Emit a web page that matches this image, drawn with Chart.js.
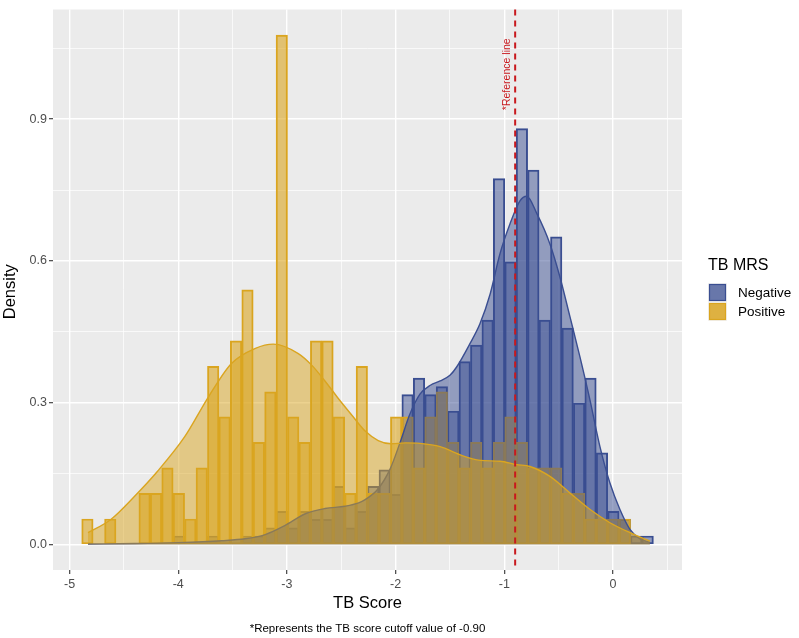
<!DOCTYPE html>
<html>
<head>
<meta charset="utf-8">
<script src="https://cdn.jsdelivr.net/npm/chart.js@4.4.1/dist/chart.umd.min.js"></script>
<style>
html,body{margin:0;padding:0;background:#ffffff;}
canvas{display:block;}
</style>
</head>
<body>
<canvas id="chart" width="799" height="638"></canvas>
<script>
// ---------- data ----------
const seriesNames = ['Negative', 'Positive'];

// histogram bin centres (TB Score)
const binCenters = [
  -4.8354, -4.7302, -4.6250, -4.5198, -4.4146, -4.3094, -4.2042, -4.0990, -3.9938, -3.8886,
  -3.7834, -3.6782, -3.5730, -3.4678, -3.3626, -3.2574, -3.1522, -3.0470, -2.9418, -2.8366,
  -2.7314, -2.6262, -2.5210, -2.4158, -2.3106, -2.2054, -2.1002, -1.9950, -1.8898, -1.7846,
  -1.6794, -1.5742, -1.4690, -1.3638, -1.2586, -1.1534, -1.0482, -0.9430, -0.8378, -0.7326,
  -0.6274, -0.5222, -0.4170, -0.3118, -0.2066, -0.1014, 0.0038, 0.1090, 0.2142, 0.3194
];

// histogram densities (null = empty bin)
const negativeDensity = [
  null, null, null, null, null, null, null, null, 0.018, null,
  null, 0.018, null, null, 0.018, 0.018, 0.035, 0.070, 0.035, 0.070,
  0.053, 0.053, 0.123, 0.035, 0.070, 0.123, 0.158, 0.106, 0.317, 0.352,
  0.317, 0.334, 0.282, 0.387, 0.422, 0.475, 0.774, 0.598, 0.880, 0.792,
  0.475, 0.651, 0.458, 0.299, 0.352, 0.194, 0.070, 0.053, 0.018, 0.018
];
const positiveDensity = [
  0.054, null, 0.054, null, null, 0.108, 0.108, 0.162, 0.108, 0.054,
  0.162, 0.377, 0.270, 0.431, 0.539, 0.216, 0.323, 1.078, 0.270, 0.216,
  0.431, 0.431, 0.270, 0.108, 0.377, 0.108, 0.108, 0.270, 0.270, 0.162,
  0.270, 0.323, 0.216, 0.162, 0.216, 0.162, 0.216, 0.270, 0.216, 0.162,
  0.162, 0.162, 0.108, 0.108, 0.054, 0.054, 0.054, 0.054, null, null
];

// density curves
const negativeCurveX = [-4.83, -4.4, -4.0, -3.6, -3.385, -3.2, -3.02, -2.83, -2.65, -2.465, -2.34, -2.28, -2.16, -2.05, -1.96, -1.87, -1.776, -1.68, -1.59, -1.50, -1.44, -1.316, -1.224, -1.13, -1.04, -0.948, -0.856, -0.794, -0.70, -0.58, -0.488, -0.396, -0.304, -0.212, -0.12, -0.028, 0.064, 0.156, 0.248, 0.34];
const negativeCurveY = [0.001, 0.002, 0.004, 0.008, 0.012, 0.021, 0.040, 0.065, 0.076, 0.081, 0.088, 0.095, 0.118, 0.160, 0.215, 0.275, 0.318, 0.337, 0.346, 0.358, 0.375, 0.425, 0.467, 0.530, 0.615, 0.678, 0.727, 0.737, 0.700, 0.636, 0.566, 0.482, 0.397, 0.306, 0.207, 0.130, 0.074, 0.032, 0.012, 0.004];
const positiveCurveX = [-4.83, -4.62, -4.41, -4.19, -3.94, -3.72, -3.51, -3.29, -3.125, -2.895, -2.77, -2.65, -2.527, -2.40, -2.28, -2.16, -2.04, -1.91, -1.776, -1.59, -1.41, -1.22, -1.04, -0.886, -0.764, -0.58, -0.396, -0.21, -0.028, 0.156, 0.34];
const positiveCurveY = [0.025, 0.053, 0.100, 0.155, 0.228, 0.313, 0.383, 0.415, 0.424, 0.404, 0.379, 0.346, 0.309, 0.273, 0.240, 0.220, 0.213, 0.215, 0.214, 0.207, 0.190, 0.178, 0.176, 0.169, 0.165, 0.144, 0.109, 0.074, 0.046, 0.025, 0.007];

// axes
const xTicksMajor = [-5, -4, -3, -2, -1, 0];
const xTicksMinor = [-4.5, -3.5, -2.5, -1.5, -0.5, 0.5];
const yTicksMajor = [0, 0.3, 0.6, 0.9];
const yTicksMinor = [0.15, 0.45, 0.75, 1.05];
const xLimits = [-5.152, 0.635];
const yLimits = [-0.054, 1.132];

// reference line
const referenceValue = -0.90;
const referenceLabel = '*Reference line';
const referenceLabelY = 0.995;

const xTitle = 'TB Score';
const yTitle = 'Density';
const legendTitle = 'TB MRS';
const captionText = '*Represents the TB score cutoff value of -0.90';

// ---------- styles ----------
const FONT = '"Liberation Sans", Arial, Helvetica, sans-serif';
const blue = 'rgb(58,78,145)';
const blueA = 'rgba(58,78,145,0.5)';
const gold = 'rgb(218,165,32)';
const goldA = 'rgba(218,165,32,0.6)';
const red = '#C8191E';

const toXY = (xs, ys) => xs.map((x, i) => ({ x: x, y: ys[i] }));
const isIn = (arr, v) => arr.some(a => Math.abs(a - v) < 1e-6);

const panelPlugin = {
  id: 'panel',
  beforeDraw(chart) {
    const { ctx, chartArea: a } = chart;
    ctx.save();
    ctx.fillStyle = '#ffffff';
    ctx.fillRect(0, 0, chart.width, chart.height);
    ctx.fillStyle = '#EBEBEB';
    ctx.fillRect(a.left, a.top, a.right - a.left, a.bottom - a.top);
    ctx.restore();
  },
  afterDatasetsDraw(chart) {
    const { ctx, chartArea: a, scales } = chart;
    const px = scales.x.getPixelForValue(referenceValue);
    ctx.save();
    ctx.strokeStyle = red;
    ctx.lineWidth = 2;
    ctx.setLineDash([6, 5]);
    ctx.beginPath();
    ctx.moveTo(px, a.top);
    ctx.lineTo(px, a.bottom);
    ctx.stroke();
    ctx.setLineDash([]);
    const py = scales.y.getPixelForValue(referenceLabelY);
    ctx.translate(px - 8.5, py);
    ctx.rotate(-Math.PI / 2);
    ctx.fillStyle = red;
    ctx.font = '10.5px ' + FONT;
    ctx.textAlign = 'center';
    ctx.textBaseline = 'middle';
    ctx.fillText(referenceLabel, 0, 0);
    ctx.restore();
  },
  afterDraw(chart) {
    const { ctx, chartArea: a } = chart;
    const cx = (a.left + a.right) / 2;
    ctx.save();
    ctx.fillStyle = '#000000';
    ctx.textAlign = 'center';
    ctx.textBaseline = 'middle';
    ctx.font = '16.5px ' + FONT;
    ctx.fillText(xTitle, cx, 603);
    ctx.font = '11.5px ' + FONT;
    ctx.fillText(captionText, cx, 629);
    ctx.save();
    ctx.translate(10, (a.top + a.bottom) / 2 + 2);
    ctx.rotate(-Math.PI / 2);
    ctx.font = '16.5px ' + FONT;
    ctx.fillText(yTitle, 0, 0);
    ctx.restore();
    // legend
    ctx.textAlign = 'left';
    ctx.font = '16px ' + FONT;
    ctx.fillText(legendTitle, 708, 266);
    const keys = [
      { y: 283, fill: blueA, line: blue },
      { y: 302, fill: goldA, line: gold }
    ];
    keys.forEach((k, i) => {
      ctx.fillStyle = '#F2F2F2';
      ctx.fillRect(708, k.y, 19, 19);
      ctx.fillStyle = k.fill;
      ctx.fillRect(709, k.y + 1, 17, 17);
      ctx.fillRect(709, k.y + 1, 17, 17);
      ctx.strokeStyle = k.line;
      ctx.lineWidth = 1.2;
      ctx.strokeRect(709.5, k.y + 1.5, 16, 16);
      ctx.fillStyle = '#000000';
      ctx.font = '13.5px ' + FONT;
      ctx.fillText(seriesNames[i], 738, k.y + 10);
    });
    ctx.restore();
  }
};

const tickValue = (c) => (c && c.tick) ? c.tick.value : NaN;
const gridWidth = (c, majors) => isIn(majors, tickValue(c)) ? 1.4 : 0.7;
const tickCol = (c, majors) => isIn(majors, tickValue(c)) ? '#333333' : 'rgba(0,0,0,0)';

new Chart(document.getElementById('chart'), {
  type: 'bar',
  data: {
    datasets: [
      {
        type: 'line', label: seriesNames[1] + ' density',
        data: toXY(positiveCurveX, positiveCurveY),
        borderColor: gold, borderWidth: 1.4, backgroundColor: 'rgba(218,165,32,0.5)',
        fill: 'origin', pointRadius: 0, cubicInterpolationMode: 'monotone', order: 0
      },
      {
        type: 'line', label: seriesNames[0] + ' density',
        data: toXY(negativeCurveX, negativeCurveY),
        borderColor: blue, borderWidth: 1.4, backgroundColor: 'rgba(58,78,145,0.5)',
        fill: 'origin', pointRadius: 0, cubicInterpolationMode: 'monotone', order: 1
      },
      {
        label: seriesNames[1],
        data: toXY(binCenters, positiveDensity),
        backgroundColor: goldA, borderColor: gold, borderWidth: 1.3,
        borderSkipped: false, grouped: false, barPercentage: 1, categoryPercentage: 1, order: 2
      },
      {
        label: seriesNames[0],
        data: toXY(binCenters, negativeDensity),
        backgroundColor: blueA, borderColor: blue, borderWidth: 1.3,
        borderSkipped: false, grouped: false, barPercentage: 1, categoryPercentage: 1, order: 3
      }
    ]
  },
  options: {
    responsive: false,
    devicePixelRatio: 1,
    animation: false,
    layout: { padding: { left: 0, right: 117, top: 8, bottom: 0 } },
    plugins: { legend: { display: false }, tooltip: { enabled: false } },
    scales: {
      x: {
        type: 'linear', min: xLimits[0], max: xLimits[1], offset: false,
        afterFit(s) { s.height = 68; },
        afterBuildTicks(s) { s.ticks = xTicksMajor.concat(xTicksMinor).sort((a, b) => a - b).map(v => ({ value: v })); },
        ticks: {
          autoSkip: false, maxRotation: 0, padding: 3, color: '#4D4D4D',
          font: { family: FONT, size: 12.5 },
          callback: (v) => isIn(xTicksMajor, v) ? String(Math.round(v)) : ''
        },
        grid: {
          offset: false,
          color: '#FFFFFF', lineWidth: (c) => gridWidth(c, xTicksMajor),
          tickLength: 4, tickColor: (c) => tickCol(c, xTicksMajor), tickWidth: 1.1
        },
        border: { display: false }
      },
      y: {
        type: 'linear', min: yLimits[0], max: yLimits[1],
        afterFit(s) { s.width = 53; },
        afterBuildTicks(s) { s.ticks = yTicksMajor.concat(yTicksMinor).sort((a, b) => a - b).map(v => ({ value: v })); },
        ticks: {
          autoSkip: false, padding: 2, color: '#4D4D4D',
          font: { family: FONT, size: 12.5 },
          callback: (v) => isIn(yTicksMajor, v) ? v.toFixed(1) : ''
        },
        grid: {
          offset: false,
          color: '#FFFFFF', lineWidth: (c) => gridWidth(c, yTicksMajor),
          tickLength: 4, tickColor: (c) => tickCol(c, yTicksMajor), tickWidth: 1.1
        },
        border: { display: false }
      }
    }
  },
  plugins: [panelPlugin]
});
</script>
</body>
</html>
